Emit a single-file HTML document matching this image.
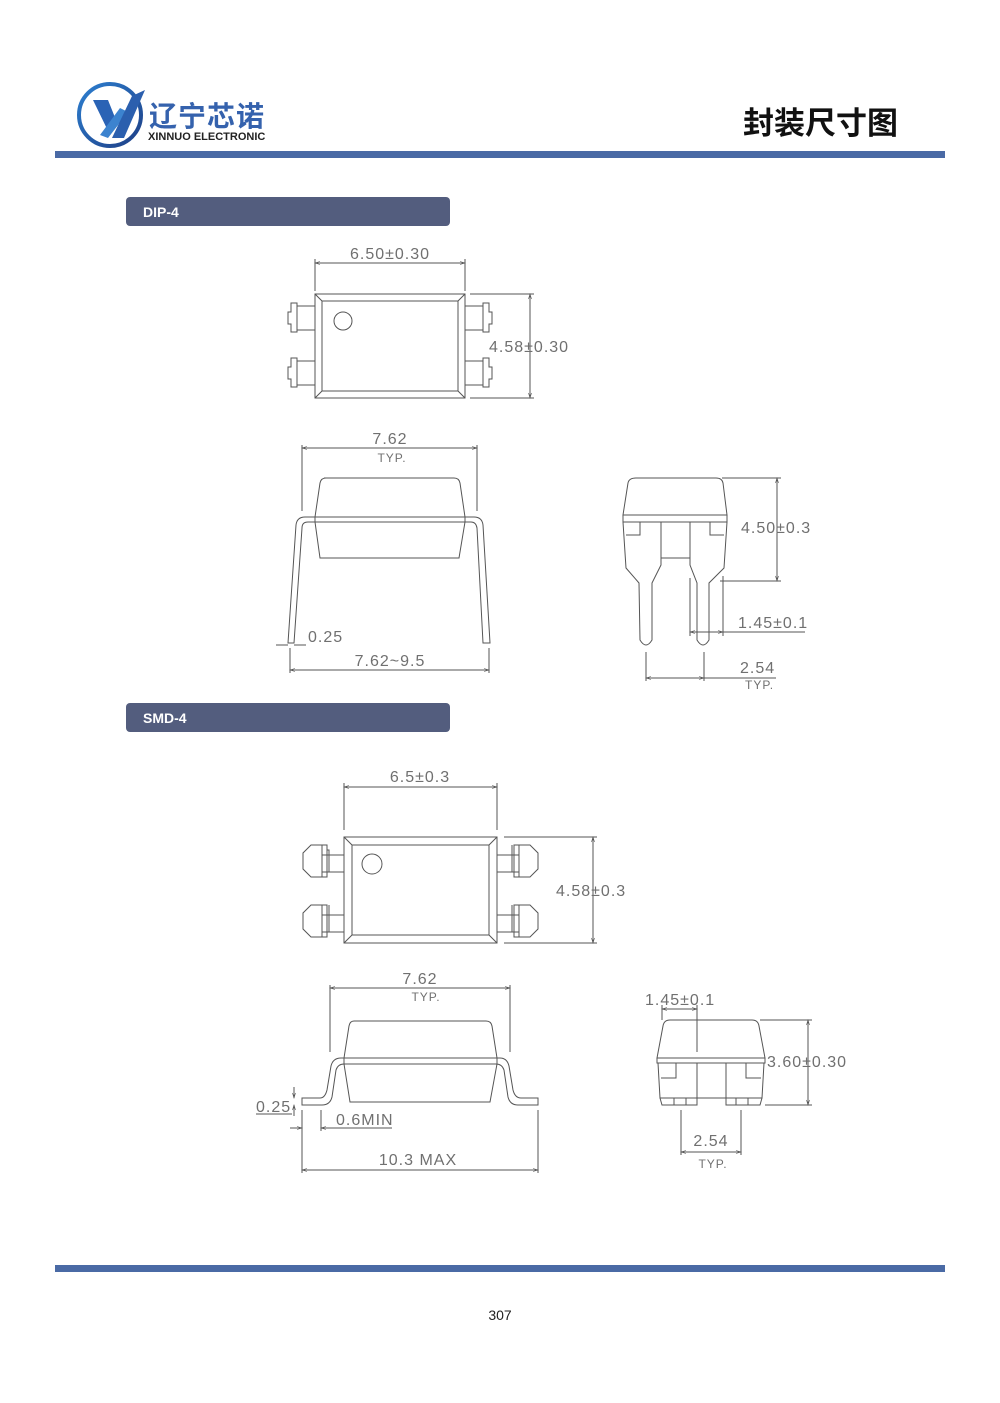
<!DOCTYPE html>
<html><head><meta charset="utf-8"><style>
html,body{margin:0;padding:0;background:#fff}
svg{display:block}
.d{fill:none;stroke:#555;stroke-width:1}
.t{font-family:"Liberation Sans",sans-serif;fill:#707070;font-size:16px;letter-spacing:1px}
.s{font-family:"Liberation Sans",sans-serif;fill:#707070;font-size:12px;letter-spacing:1px}
</style></head><body>
<svg width="1000" height="1403" viewBox="0 0 1000 1403" xmlns="http://www.w3.org/2000/svg">
<defs>
<marker id="a" viewBox="0 0 10 10" refX="10" refY="5" markerWidth="7" markerHeight="5" orient="auto-start-reverse"><path d="M0,2 L10,5 L0,8" fill="none" stroke="#555" stroke-width="1.2"/></marker>
<linearGradient id="g" x1="0" y1="0" x2="1" y2="1"><stop offset="0" stop-color="#2d7fd0"/><stop offset="1" stop-color="#1e3f86"/></linearGradient>
</defs>
<circle cx="110" cy="115" r="31" fill="none" stroke="url(#g)" stroke-width="4"/>
<path d="M93,100 L108,100 L118,125 L110,135 Z" fill="#2a63b5"/>
<path d="M100,135 L120,108 L128,112 L108,138 Z" fill="#3c83cf"/>
<path d="M112,138 L132,96 L145,90 L124,138 Z" fill="#2b5fae"/>
<text x="149" y="126" font-family="'Liberation Sans','Noto Sans CJK SC',sans-serif" font-size="28" font-weight="bold" fill="#3562ad" letter-spacing="1">辽宁芯诺</text>
<text x="148" y="140" font-family="'Liberation Sans',sans-serif" font-size="11" font-weight="bold" fill="#222">XINNUO ELECTRONIC</text>
<text x="898" y="134" text-anchor="end" font-family="'Liberation Sans','Noto Sans CJK SC',sans-serif" font-size="31" font-weight="bold" fill="#111">封装尺寸图</text>
<rect x="55" y="151" width="890" height="7" fill="#4a6aa5"/>
<rect x="55" y="1265" width="890" height="7" fill="#4a6aa5"/>
<text x="500" y="1320" text-anchor="middle" font-family="'Liberation Sans',sans-serif" font-size="14" fill="#222">307</text>
<rect x="126" y="197" width="324" height="29" rx="4" fill="#535d7e"/>
<text x="143" y="217" font-family="'Liberation Sans',sans-serif" font-size="14" font-weight="bold" fill="#fff">DIP-4</text>
<rect x="126" y="703" width="324" height="29" rx="4" fill="#535d7e"/>
<text x="143" y="723" font-family="'Liberation Sans',sans-serif" font-size="14" font-weight="bold" fill="#fff">SMD-4</text>

<g class="d">
<rect x="315" y="294" width="150" height="104"/>
<rect x="322" y="301" width="136" height="90"/>
<path d="M315,294 L322,301 M465,294 L458,301 M315,398 L322,391 M465,398 L458,391"/>
<circle cx="343" cy="321" r="9"/>
<path d="M315,306 L297,306 L297,303 L291,303 L291,312 L288,312 L288,324 L291,324 L291,332 L297,332 L297,330 L315,330"/>
<path d="M315,361 L297,361 L297,358 L291,358 L291,367 L288,367 L288,379 L291,379 L291,387 L297,387 L297,385 L315,385"/>
<path d="M465,306 L483,306 L483,303 L489,303 L489,312 L492,312 L492,324 L489,324 L489,332 L483,332 L483,330 L465,330"/>
<path d="M465,361 L483,361 L483,358 L489,358 L489,367 L492,367 L492,379 L489,379 L489,387 L483,387 L483,385 L465,385"/>
<path d="M297,306 L297,330 M483,306 L483,330 M297,361 L297,385 M483,361 L483,385"/>
<path d="M315,291 L315,259 M465,291 L465,259 M470,294 L534,294 M470,398 L534,398"/>
<line x1="315" y1="263" x2="465" y2="263" marker-start="url(#a)" marker-end="url(#a)"/>
<line x1="530" y1="294" x2="530" y2="398" marker-start="url(#a)" marker-end="url(#a)"/>
</g>
<text class="t" x="390" y="259" text-anchor="middle">6.50±0.30</text>
<text class="t" x="489" y="352">4.58±0.30</text>

<g class="d">
<path d="M324,478 L454,478 Q459,478 460,483 L465,517 L465,522 L459,558 L320,558 L315,522 L315,517 L320,483 Q321,478 326,478 Z"/>
<path d="M288,643 L296,525 Q297,517 305,517 L474,517 Q482,517 483,525 L490,643 L483,643 L477,528 Q476,522 471,522 L308,522 Q302,522 302,528 L294,643 Z"/>
<path d="M302,511 L302,445 M477,511 L477,445 M290,648 L290,673 M489,648 L489,673"/>
<line x1="302" y1="448" x2="477" y2="448" marker-start="url(#a)" marker-end="url(#a)"/>
<line x1="290" y1="670" x2="489" y2="670" marker-start="url(#a)" marker-end="url(#a)"/>
<path d="M276,645 L288,645 M294,645 L306,645"/>
</g>
<text class="t" x="390" y="444" text-anchor="middle">7.62</text>
<text class="s" x="392" y="462" text-anchor="middle">TYP.</text>
<text class="t" x="308" y="642">0.25</text>
<text class="t" x="390" y="666" text-anchor="middle">7.62~9.5</text>

<g class="d">
<path d="M623,515 L628,483 Q629,478 636,478 L716,478 Q722,478 723,483 L727,515 Z"/>
<path d="M623,515 L623,522 L727,522 L727,515"/>
<path d="M623,522 L626,568 L639,583 L640,640 Q646,650 652,640 L652,583 L661,565 L661,522"/>
<path d="M661,522 L661,558 L690,558 L690,522"/>
<path d="M690,522 L690,565 L697,583 L697,640 Q703,650 709,640 L709,583 L724,568 L727,522"/>
<path d="M626,535 L640,535 L640,522 M724,535 L710,535 L710,522"/>
<path d="M722,478 L781,478 M720,581 L781,581"/>
<line x1="777" y1="478" x2="777" y2="581" marker-start="url(#a)" marker-end="url(#a)"/>
<path d="M690,578 L690,636 M723,576 L723,636 M646,652 L646,681 M704,652 L704,681"/>
<line x1="690" y1="632" x2="723" y2="632" marker-start="url(#a)" marker-end="url(#a)"/>
<line x1="723" y1="632" x2="805" y2="632"/>
<line x1="646" y1="678" x2="704" y2="678" marker-start="url(#a)" marker-end="url(#a)"/>
<line x1="704" y1="678" x2="776" y2="678"/>
</g>
<text class="t" x="741" y="533">4.50±0.3</text>
<text class="t" x="738" y="628">1.45±0.1</text>
<text class="t" x="740" y="673">2.54</text>
<text class="s" x="745" y="689">TYP.</text>

<g class="d">
<rect x="344" y="837" width="153" height="106"/>
<rect x="352" y="845" width="137" height="90"/>
<path d="M344,837 L352,845 M497,837 L489,845 M344,943 L352,935 M497,943 L489,935"/>
<circle cx="372" cy="864" r="10"/>
<path d="M327,845 L311,845 L303,853 L303,869 L311,877 L327,877 Z M322,855 L344,855 M322,872 L344,872 M327,850 L329,850 L329,872 M322,845 L322,877"/>
<path d="M327,905 L311,905 L303,913 L303,929 L311,937 L327,937 Z M322,915 L344,915 M322,932 L344,932 M329,905 L329,932 M322,905 L322,937"/>
<path d="M514,845 L530,845 L538,853 L538,869 L530,877 L514,877 Z M519,855 L497,855 M519,872 L497,872 M512,845 L512,872 M519,845 L519,877"/>
<path d="M514,905 L530,905 L538,913 L538,929 L530,937 L514,937 Z M519,915 L497,915 M519,932 L497,932 M512,905 L512,932 M519,905 L519,937"/>
<path d="M344,830 L344,783 M497,830 L497,783 M504,837 L597,837 M504,943 L597,943"/>
<line x1="344" y1="787" x2="497" y2="787" marker-start="url(#a)" marker-end="url(#a)"/>
<line x1="593" y1="837" x2="593" y2="943" marker-start="url(#a)" marker-end="url(#a)"/>
</g>
<text class="t" x="420" y="782" text-anchor="middle">6.5±0.3</text>
<text class="t" x="556" y="896">4.58±0.3</text>

<g class="d">
<path d="M354,1021 L486,1021 Q491,1021 492,1026 L497,1058 L497,1064 L490,1102 L350,1102 L344,1064 L344,1058 L349,1026 Q350,1021 354,1021 Z"/>
<path d="M302,1098 L320,1098 Q325,1098 327,1090 L331,1066 Q333,1058 341,1058 L500,1058 Q507,1058 509,1066 L513,1090 Q515,1098 521,1098 L538,1098 L538,1105 L518,1105 Q510,1105 508,1097 L504,1070 Q502,1064 496,1064 L344,1064 Q338,1064 336,1070 L332,1097 Q330,1105 322,1105 L302,1105 Z"/>
<path d="M330,1052 L330,985 M510,1052 L510,985"/>
<line x1="330" y1="988" x2="510" y2="988" marker-start="url(#a)" marker-end="url(#a)"/>
<path d="M302,1110 L302,1173 M538,1110 L538,1173 M321,1110 L321,1131"/>
<line x1="302" y1="1170" x2="538" y2="1170" marker-start="url(#a)" marker-end="url(#a)"/>
<line x1="321" y1="1128" x2="392" y2="1128" marker-start="url(#a)"/>
<line x1="256" y1="1114" x2="292" y2="1114"/>
<line x1="294" y1="1087" x2="294" y2="1098" marker-end="url(#a)"/>
<line x1="294" y1="1116" x2="294" y2="1105" marker-end="url(#a)"/>
<line x1="290" y1="1128" x2="302" y2="1128" marker-end="url(#a)"/>
</g>
<text class="t" x="420" y="984" text-anchor="middle">7.62</text>
<text class="s" x="426" y="1001" text-anchor="middle">TYP.</text>
<text class="t" x="256" y="1112">0.25</text>
<text class="t" x="336" y="1125">0.6MIN</text>
<text class="t" x="418" y="1165" text-anchor="middle">10.3  MAX</text>

<g class="d">
<path d="M657,1058 L663,1026 Q664,1020 670,1020 L752,1020 Q758,1020 759,1026 L765,1058 Z"/>
<path d="M657,1058 L657,1063 L765,1063 L765,1058"/>
<path d="M658,1063 L660,1098 L697,1098 L697,1063 M726,1063 L726,1098 L762,1098 L764,1063"/>
<path d="M697,1098 L726,1098"/>
<path d="M660,1098 L662,1105 L697,1105 L697,1098 M726,1098 L726,1105 L760,1105 L762,1098"/>
<path d="M674,1098 L674,1105 M686,1098 L686,1105 M736,1098 L736,1105 M748,1098 L748,1105"/>
<path d="M661,1078 L676,1078 L676,1063 M761,1078 L746,1078 L746,1063"/>
<path d="M697,1005 L697,1052 M662,1005 L662,1020"/>
<line x1="662" y1="1009" x2="697" y2="1009" marker-start="url(#a)" marker-end="url(#a)"/>
<path d="M760,1020 L812,1020 M765,1105 L812,1105"/>
<line x1="808" y1="1020" x2="808" y2="1105" marker-start="url(#a)" marker-end="url(#a)"/>
<path d="M681,1110 L681,1155 M741,1110 L741,1155"/>
<line x1="681" y1="1152" x2="741" y2="1152" marker-start="url(#a)" marker-end="url(#a)"/>
</g>
<text class="t" x="645" y="1005">1.45±0.1</text>
<text class="t" x="767" y="1067">3.60±0.30</text>
<text class="t" x="711" y="1146" text-anchor="middle">2.54</text>
<text class="s" x="713" y="1168" text-anchor="middle">TYP.</text>
</svg>
</body></html>
